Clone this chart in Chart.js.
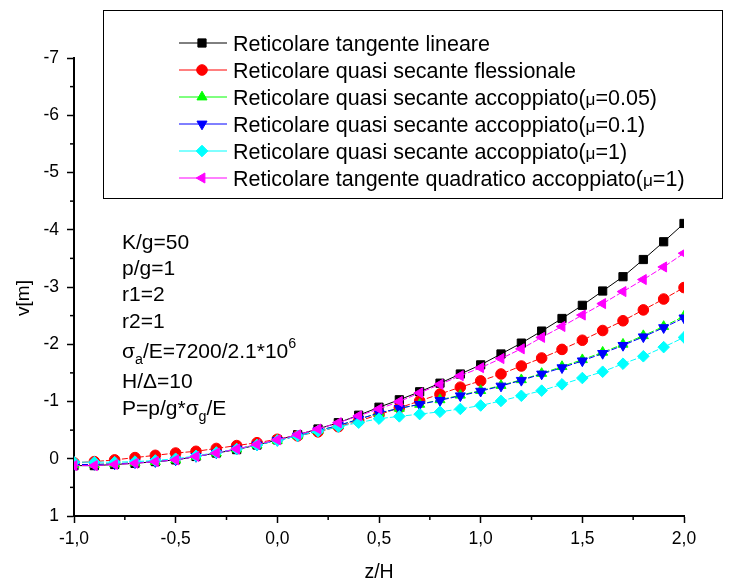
<!DOCTYPE html>
<html>
<head>
<meta charset="utf-8">
<script src="https://cdn.jsdelivr.net/npm/chart.js@4.4.0/dist/chart.umd.min.js"></script>
<style>
  html, body { margin: 0; padding: 0; background: #fff; }
  #wrap { width: 732px; height: 586px; }
</style>
</head>
<body>
<div id="wrap"><canvas id="chart" width="732" height="586"></canvas></div>
<script>
// Dati (z/H sulle ascisse, v[m] sulle ordinate)
const zH = [-1.0, -0.9, -0.8, -0.7, -0.6, -0.5, -0.4, -0.3, -0.2, -0.1, 0.0,
            0.1, 0.2, 0.3, 0.4, 0.5, 0.6, 0.7, 0.8, 0.9, 1.0,
            1.1, 1.2, 1.3, 1.4, 1.5, 1.6, 1.7, 1.8, 1.9, 2.0];

const tangenteLineare = [0.12, 0.12, 0.10, 0.08, 0.05, 0.02, -0.04, -0.10, -0.16, -0.24, -0.33,
    -0.42, -0.52, -0.63, -0.76, -0.90, -1.03, -1.17, -1.32, -1.48, -1.64,
    -1.83, -2.02, -2.23, -2.45, -2.68, -2.93, -3.18, -3.48, -3.79, -4.11];
const secanteFlessionale = [0.07, 0.05, 0.02, -0.02, -0.06, -0.10, -0.13, -0.18, -0.23, -0.28, -0.34,
    -0.40, -0.47, -0.56, -0.66, -0.77, -0.89, -1.01, -1.13, -1.25, -1.36,
    -1.48, -1.62, -1.76, -1.91, -2.07, -2.24, -2.41, -2.60, -2.79, -2.99];
const secanteMu005 = [0.10, 0.10, 0.09, 0.07, 0.05, 0.02, -0.04, -0.10, -0.17, -0.24, -0.32,
    -0.40, -0.49, -0.58, -0.69, -0.80, -0.88, -0.95, -1.03, -1.11, -1.19,
    -1.28, -1.38, -1.49, -1.61, -1.73, -1.86, -2.00, -2.15, -2.31, -2.49];
const secanteMu01 = [0.10, 0.10, 0.09, 0.07, 0.05, 0.02, -0.04, -0.10, -0.17, -0.24, -0.32,
    -0.40, -0.49, -0.58, -0.69, -0.80, -0.88, -0.95, -1.02, -1.10, -1.18,
    -1.27, -1.37, -1.48, -1.59, -1.71, -1.84, -1.98, -2.13, -2.29, -2.46];
const secanteMu1 = [0.06, 0.06, 0.06, 0.05, 0.03, 0.00, -0.05, -0.11, -0.17, -0.24, -0.32,
    -0.40, -0.48, -0.56, -0.63, -0.70, -0.74, -0.78, -0.82, -0.87, -0.93,
    -1.01, -1.10, -1.19, -1.30, -1.41, -1.52, -1.66, -1.79, -1.95, -2.12];
const quadraticoMu1 = [0.12, 0.12, 0.10, 0.08, 0.05, 0.02, -0.04, -0.10, -0.17, -0.25, -0.33,
    -0.42, -0.52, -0.63, -0.75, -0.87, -1.00, -1.15, -1.30, -1.45, -1.59,
    -1.75, -1.92, -2.12, -2.31, -2.51, -2.71, -2.92, -3.13, -3.35, -3.59];

const xTicks = [-1.0, -0.5, 0.0, 0.5, 1.0, 1.5, 2.0];
const yTicks = [-7, -6, -5, -4, -3, -2, -1, 0, 1];

// Etichette della legenda (~{..} = carattere piccolo)
const labels = [
    'Reticolare tangente lineare',
    'Reticolare quasi secante flessionale',
    'Reticolare quasi secante accoppiato(~{\u03bc}=0.05)',
    'Reticolare quasi secante accoppiato(~{\u03bc}=0.1)',
    'Reticolare quasi secante accoppiato(~{\u03bc}=1)',
    'Reticolare tangente quadratico accoppiato(~{\u03bc}=1)'
];

// Parametri scritti nel grafico (_{..} pedice, ^{..} apice)
const notes = [
    'K/g=50',
    'p/g=1',
    'r1=2',
    'r2=1',
    '\u03c3_{a}/E=7200/2.1*10^{6}',
    'H/\u0394=10',
    'P=p/g*\u03c3_{g}/E'
];
const noteY = [241, 267, 293, 320, 350, 380, 407];

const FONT = '"Liberation Sans", Arial, sans-serif';

function pts(vals) {
    return zH.map((x, i) => ({ x: x, y: vals[i] }));
}

function serie(label, vals, color, style, rot, radius, dash, order) {
    return {
        label: label,
        data: pts(vals),
        borderColor: color,
        backgroundColor: color,
        borderWidth: 1,
        borderDash: dash,
        pointStyle: style,
        rotation: rot,
        pointRadius: radius,
        pointBackgroundColor: color,
        pointBorderColor: color,
        pointBorderWidth: 1,
        tension: 0,
        order: order
    };
}

const datasets = [
    serie(labels[0], tangenteLineare, '#000000', 'rect', 0, 5.8, [], 5),
    serie(labels[1], secanteFlessionale, '#ff0000', 'circle', 0, 5.3, [6, 2], 4),
    serie(labels[2], secanteMu005, '#00ff00', 'triangle', 0, 5.8, [6, 2], 3),
    serie(labels[3], secanteMu01, '#0000ff', 'triangle', 180, 5.8, [6, 2], 2),
    serie(labels[4], secanteMu1, '#00ffff', 'rectRot', 0, 5.8, [6, 2], 1),
    serie(labels[5], quadraticoMu1, '#ff00ff', 'triangle', -90, 5.8, [6, 2], 0)
];

// testo con pedici / apici
function drawRich(ctx, x, y, str, size) {
    const parts = [];
    const re = /([_^~])\{([^}]*)\}/g;
    let last = 0, m;
    while ((m = re.exec(str)) !== null) {
        if (m.index > last) parts.push({ t: str.slice(last, m.index), k: '' });
        parts.push({ t: m[2], k: m[1] });
        last = re.lastIndex;
    }
    if (last < str.length) parts.push({ t: str.slice(last), k: '' });
    let cx = x;
    ctx.textBaseline = 'alphabetic';
    ctx.textAlign = 'left';
    parts.forEach(p => {
        let s = size, dy = 0;
        if (p.k === '_') { s = size * 0.68; dy = size * 0.32; }
        if (p.k === '^') { s = size * 0.68; dy = -size * 0.45; }
        if (p.k === '~') { s = size * 0.8; }
        ctx.font = s + 'px ' + FONT;
        ctx.fillText(p.t, cx, y + dy);
        cx += ctx.measureText(p.t).width;
    });
}

const extras = {
    id: 'extras',
    afterDraw(chart) {
        const ctx = chart.ctx;
        const xs = chart.scales.x, ys = chart.scales.y;
        ctx.save();
        ctx.strokeStyle = '#000';
        ctx.lineWidth = 1.5;
        // tacche secondarie
        for (let v = -0.75; v < 2; v += 0.5) {
            const px = xs.getPixelForValue(v);
            ctx.beginPath();
            ctx.moveTo(px, ys.bottom);
            ctx.lineTo(px, ys.bottom + 4);
            ctx.stroke();
        }
        for (let v = -6.5; v < 1; v += 1) {
            const py = ys.getPixelForValue(v);
            ctx.beginPath();
            ctx.moveTo(xs.left, py);
            ctx.lineTo(xs.left - 4, py);
            ctx.stroke();
        }

        // titolo asse y
        ctx.save();
        ctx.translate(24, 298);
        ctx.rotate(-Math.PI / 2);
        ctx.fillStyle = '#000';
        ctx.font = '19px ' + FONT;
        ctx.textAlign = 'center';
        ctx.textBaseline = 'middle';
        ctx.fillText('v[m]', 0, 0);
        ctx.restore();

        // legenda
        ctx.lineWidth = 1;
        ctx.strokeStyle = '#000';
        ctx.strokeRect(103.5, 10.5, 619, 188);
        chart.data.datasets.forEach((ds, i) => {
            const cy = 43 + i * 27;
            ctx.strokeStyle = ds.borderColor;
            ctx.lineWidth = 1;
            ctx.setLineDash([]);
            ctx.beginPath();
            ctx.moveTo(179, cy);
            ctx.lineTo(227, cy);
            ctx.stroke();
            ctx.fillStyle = ds.pointBackgroundColor;
            Chart.helpers.drawPoint(ctx, {
                pointStyle: ds.pointStyle,
                rotation: ds.rotation,
                radius: ds.pointRadius,
                borderWidth: 1
            }, 202, cy);
            ctx.fillStyle = '#000';
            drawRich(ctx, 233, cy + 7.5, labels[i], 21.5);
        });

        // parametri
        ctx.fillStyle = '#000';
        notes.forEach((t, i) => drawRich(ctx, 122, noteY[i] + 7.5, t, 21));
        ctx.restore();
    }
};

new Chart(document.getElementById('chart'), {
    type: 'line',
    data: { datasets: datasets },
    options: {
        responsive: false,
        animation: false,
        layout: { padding: { top: 58, right: 48, left: 0, bottom: 0 } },
        plugins: {
            legend: { display: false },
            tooltip: { enabled: false }
        },
        scales: {
            x: {
                type: 'linear',
                min: -1, max: 2,
                afterFit: s => { s.height = 70; },
                afterBuildTicks: s => { s.ticks = xTicks.map(v => ({ value: v })); },
                border: { display: true, color: '#000', width: 2 },
                grid: { drawOnChartArea: false, drawTicks: true, tickLength: 7, tickColor: '#000', tickWidth: 1.5 },
                ticks: {
                    color: '#000',
                    padding: 6,
                    font: { family: FONT, size: 17.5 },
                    callback: v => v.toFixed(1).replace('.', ',')
                },
                title: {
                    display: true, text: 'z/H', color: '#000',
                    font: { family: FONT, size: 19.5 },
                    padding: { top: 4, bottom: 2 }
                }
            },
            y: {
                type: 'linear',
                min: -7, max: 1,
                reverse: true,
                afterFit: s => { s.width = 74; },
                afterBuildTicks: s => { s.ticks = yTicks.map(v => ({ value: v })); },
                border: { display: true, color: '#000', width: 2 },
                grid: { drawOnChartArea: false, drawTicks: true, tickLength: 7, tickColor: '#000', tickWidth: 1.5 },
                ticks: {
                    color: '#000',
                    padding: 8,
                    font: { family: FONT, size: 17.5 },
                    callback: v => String(v)
                },
                title: { display: false }
            }
        }
    },
    plugins: [extras]
});
</script>
</body>
</html>
